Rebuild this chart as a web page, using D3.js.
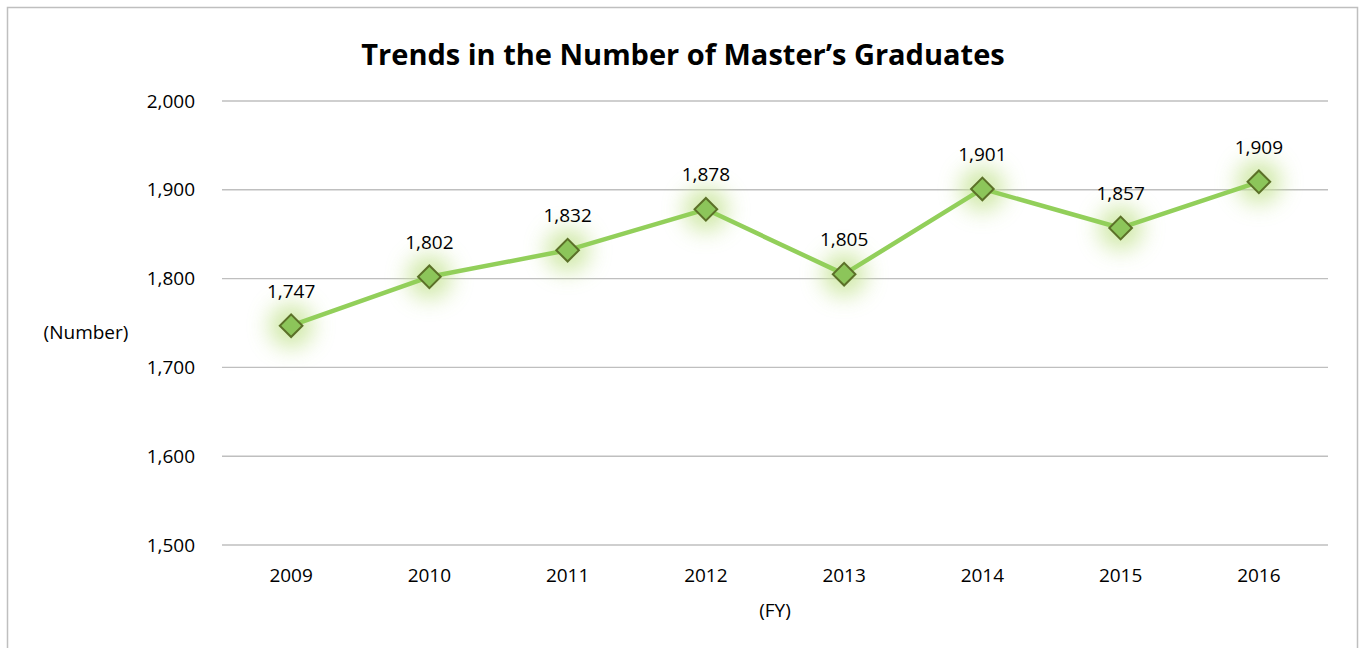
<!DOCTYPE html>
<html>
<head>
<meta charset="utf-8">
<script src="https://cdn.jsdelivr.net/npm/d3@7"></script>
<style>
  body { margin: 0; background: #fff; }
  svg { display: block; font-family: "Open Sans", "Noto Sans", sans-serif; }
</style>
</head>
<body>
<script>
const years = ['2009', '2010', '2011', '2012', '2013', '2014', '2015', '2016'];
const graduates = [1747, 1802, 1832, 1878, 1805, 1901, 1857, 1909];
const yTicks = [1500, 1600, 1700, 1800, 1900, 2000];

const width = 1360;
const height = 648;
const margin = {top: 101, right: 32, bottom: 103, left: 222};
const fontSize = '19px';

const svg = d3.select('body')
    .append('svg')
        .attr('width', width)
        .attr('height', height);

// soft glow behind the markers
const defs = svg.append('defs');
const glow = defs.append('filter')
    .attr('id', 'glow')
    .attr('x', '-200%').attr('y', '-200%')
    .attr('width', '500%').attr('height', '500%');
glow.append('feGaussianBlur')
    .attr('stdDeviation', 11);

// outer frame
svg.append('rect')
    .attr('x', 7.5)
    .attr('y', 7.5)
    .attr('width', 1350)
    .attr('height', 660)
    .attr('fill', 'none')
    .attr('stroke', '#bfbfbf')
    .attr('stroke-width', 1.5);

const xScale = d3.scaleBand()
    .domain(years)
    .range([margin.left, width - margin.right]);

const yScale = d3.scaleLinear()
    .domain([1500, 2000])
    .range([height - margin.bottom, margin.top]);

//gridlines
svg.append('g')
    .selectAll('line')
    .data(yTicks)
    .enter()
    .append('line')
        .attr('x1', margin.left)
        .attr('x2', width - margin.right)
        .attr('y1', d => yScale(d))
        .attr('y2', d => yScale(d))
        .attr('stroke', '#bfbfbf')
        .attr('stroke-width', 1.4);

//y axis labels
const yAxis = d3.axisLeft(yScale)
    .tickValues(yTicks)
    .tickFormat(d3.format(','))
    .tickSize(0)
    .tickPadding(27);
svg.append('g')
    .attr('transform', `translate(${margin.left}, 0)`)
    .call(yAxis)
    .call(g => g.select('.domain').remove())
    .selectAll('text')
        .style('font-size', fontSize)
        .style('font-family', '"Open Sans", "Noto Sans", sans-serif')
        .attr('fill', '#000');

//x axis labels
const xAxis = d3.axisBottom(xScale)
    .tickSize(0)
    .tickPadding(24);
svg.append('g')
    .attr('transform', `translate(0, ${height - margin.bottom})`)
    .call(xAxis)
    .call(g => g.select('.domain').remove())
    .selectAll('text')
        .style('font-size', fontSize)
        .style('font-family', '"Open Sans", "Noto Sans", sans-serif')
        .attr('fill', '#000');

const cx = d => xScale(d) + xScale.bandwidth() / 2;

// glow halos
svg.append('g')
    .selectAll('circle')
    .data(years)
    .enter()
    .append('circle')
        .attr('cx', d => cx(d))
        .attr('cy', (d, i) => yScale(graduates[i]))
        .attr('r', 22)
        .attr('fill', '#c4e392')
        .attr('opacity', 0.8)
        .attr('filter', 'url(#glow)');

//line
const line = d3.line()
    .x((d, i) => cx(years[i]))
    .y(d => yScale(d));
svg.append('path')
    .datum(graduates)
    .attr('d', line)
    .attr('fill', 'none')
    .attr('stroke', '#92cf5a')
    .attr('stroke-width', 4.5)
    .attr('stroke-linejoin', 'round');

//diamond markers
svg.append('g')
    .selectAll('path')
    .data(years)
    .enter()
    .append('path')
        .attr('transform', (d, i) => `translate(${cx(d)}, ${yScale(graduates[i])}) rotate(45)`)
        .attr('d', 'M-8,-8H8V8H-8Z')
        .attr('fill', '#8cc55a')
        .attr('stroke', '#5b7028')
        .attr('stroke-width', 2);

//value labels
svg.append('g')
    .selectAll('text')
    .data(years)
    .enter()
    .append('text')
        .attr('x', d => cx(d))
        .attr('y', (d, i) => yScale(graduates[i]) - 28)
        .attr('text-anchor', 'middle')
        .style('font-size', fontSize)
        .text((d, i) => d3.format(',')(graduates[i]));

//axis titles
svg.append('text')
    .attr('x', 86)
    .attr('y', 339)
    .attr('text-anchor', 'middle')
    .style('font-size', fontSize)
    .text('(Number)');

svg.append('text')
    .attr('x', 775)
    .attr('y', 617)
    .attr('text-anchor', 'middle')
    .style('font-size', fontSize)
    .text('(FY)');

//title
svg.append('text')
    .attr('x', 683)
    .attr('y', 65)
    .attr('text-anchor', 'middle')
    .style('font-size', '29px')
    .style('font-weight', 'bold')
    .text('Trends in the Number of Master\u2019s Graduates');
</script>
</body>
</html>
